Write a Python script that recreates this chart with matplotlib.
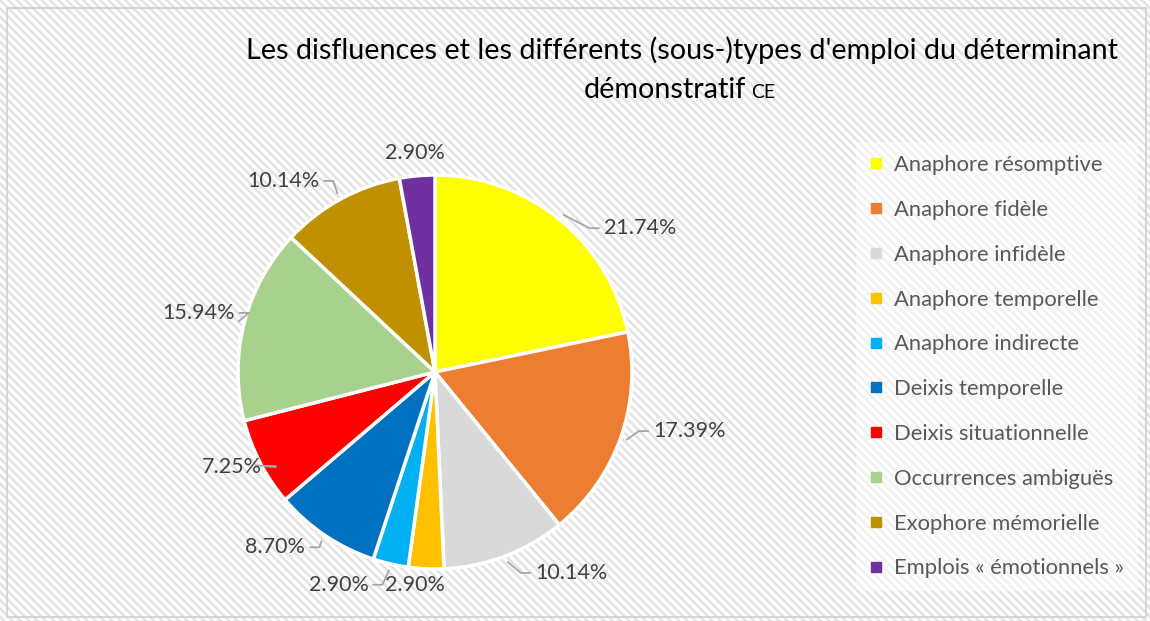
import math
import matplotlib
matplotlib.use("Agg")
import matplotlib.pyplot as plt
from matplotlib.patches import Rectangle
from matplotlib.lines import Line2D

# Données du graphique
categories = ["Anaphore résomptive", "Anaphore fidèle", "Anaphore infidèle",
              "Anaphore temporelle", "Anaphore indirecte", "Deixis temporelle",
              "Deixis situationnelle", "Occurrences ambiguës", "Exophore mémorielle",
              "Emplois « émotionnels »"]
pourcentages = [21.74, 17.39, 10.14, 2.90, 2.90, 8.70, 7.25, 15.94, 10.14, 2.90]
couleurs = ["#FFFF00", "#ED7D31", "#D9D9D9", "#FFC000", "#00B0F0",
            "#0070C0", "#FF0000", "#A9D18E", "#BF9000", "#7030A0"]

# position des étiquettes (unités du rayon, relatif au centre)
pos_etiquettes = [(1.04, 0.73), (1.29, -0.30), (0.69, -1.02), (-0.10, -1.08),
                  (-0.49, -1.08), (-0.81, -0.89), (-1.03, -0.48), (-1.20, 0.30),
                  (-0.77, 0.97), (-0.10, 1.11)]

plt.rcParams["font.family"] = ["Lato", "DejaVu Sans"]
plt.rcParams["hatch.linewidth"] = 1.8

W, H = 1150, 621
fig = plt.figure(figsize=(W / 100, H / 100), dpi=100)

# fond hachuré + cadre
fond = Rectangle((0, 0), 1, 1, transform=fig.transFigure, facecolor="white",
                 edgecolor="#E3E3E3", linewidth=0, hatch="\\\\\\\\", zorder=-2)
fig.patches.append(fond)
cadre = Rectangle((7 / W, 4 / H), (1146 - 7) / W, (613 - 4) / H, transform=fig.transFigure,
                  facecolor="none", edgecolor="#D0D0D0", linewidth=1.2, zorder=-1)
fig.patches.append(cadre)

ax = fig.add_axes([0, 0, 1, 1])
ax.patch.set_visible(False)
cx, cy, R = 435, 372, 197

wedges, _ = ax.pie(pourcentages, colors=couleurs, startangle=90, counterclock=False,
                   radius=1, wedgeprops=dict(edgecolor="white", linewidth=2.5))
ax.set_aspect("auto")
ax.set_xlim(-cx / R, (W - cx) / R)
ax.set_ylim(-(H - cy) / R, cy / R)
ax.axis("off")

renderer = fig.canvas.get_renderer()
for w, pct, (lx, ly) in zip(wedges, pourcentages, pos_etiquettes):
    t = ax.text(lx, ly, f"{pct:.2f}%", ha="center", va="center",
                fontsize=15.5, color="#404040")
    if math.hypot(lx, ly) < 1.12:
        continue
    milieu = math.radians((w.theta1 + w.theta2) / 2)
    ex, ey = 1.03 * math.cos(milieu), 1.03 * math.sin(milieu)
    bb = t.get_window_extent(renderer)
    demi = bb.width / 2 / R + 4 / R
    if lx > ex:
        bout = lx - demi
        coude = bout - 10 / R
    else:
        bout = lx + demi
        coude = bout + 10 / R
    ax.plot([ex, coude, bout], [ey, ly, ly], color="#A6A6A6", linewidth=1.3,
            solid_capstyle="butt")

# titre
fig.text(682 / W, 1 - 50 / H, "Les disfluences et les différents (sous-)types d'emploi du déterminant",
         ha="center", va="center", fontsize=20.7, color="black")
t2 = fig.text(584 / W, 1 - 90 / H, "démonstratif", ha="left", va="center",
              fontsize=20.7, color="black")
bb2 = t2.get_window_extent(renderer)
fig.text((bb2.x1 + 5) / W, 1 - 92 / H, "CE", ha="left", va="center", fontsize=14, color="black")

poignees = [Line2D([], [], marker="s", linestyle="none", markersize=7,
                   markerfacecolor=c, markeredgecolor=c) for c in couleurs]
leg = fig.legend(poignees, categories, loc="upper left", bbox_to_anchor=(845 / W, 1 - 131 / H),
                 frameon=True, fontsize=15.8, labelspacing=1.13, handlelength=0.6,
                 handletextpad=0.55, borderpad=0.6)
leg.get_frame().set_facecolor("white")
leg.get_frame().set_alpha(0.5)
leg.get_frame().set_edgecolor("none")
for t in leg.get_texts():
    t.set_color("#595959")

fig.savefig("out.png", dpi=100)
